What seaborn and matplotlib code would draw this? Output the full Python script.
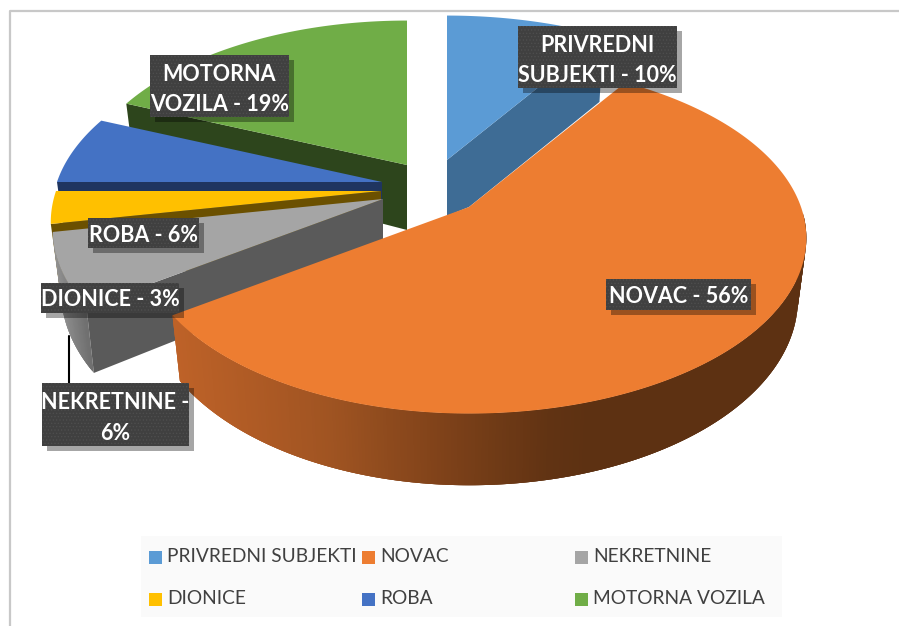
#!/usr/bin/env python3
# coding=utf-8

from matplotlib import pyplot as plt
from matplotlib.patches import Rectangle
import numpy as np
import seaborn as sns

categories = ['PRIVREDNI SUBJEKTI', 'NOVAC', 'NEKRETNINE', 'DIONICE', 'ROBA', 'MOTORNA VOZILA']
shares = [9.1, 56.2, 6.7, 3.0, 6.3, 18.7]
label_texts = ['PRIVREDNI\nSUBJEKTI - 10%', 'NOVAC - 56%', 'NEKRETNINE -\n6%',
               'DIONICE - 3%', 'ROBA - 6%', 'MOTORNA\nVOZILA - 19%']
top_colors = ['#5B9BD5', '#ED7D31', '#A5A5A5', '#FFC000', '#4472C4', '#70AD47']
cut_colors = ['#3E6C95', '#5F3112', '#5A5A5A', '#6B5000', '#1F3560', '#2D451C']

# apex of each exploded slice on the canvas, and how far its cut face drops there
apex = [(447, 160), (469, 207), (383, 199), (381, 191), (382, 182), (407, 165)]
apex_drop = [56, 59, 59, 59, 59, 65]
# label boxes: x0, y0, x1, y1
boxes = [(518, 26, 677, 88), (606, 279, 751, 310), (42, 383, 189, 446),
         (41, 283, 179, 313), (88, 218, 199, 248), (150, 55, 289, 117)]

RX_RIGHT, RX_LEFT, RY, PERSP, DEPTH, SHRINK = 332, 325, 170, 0.177, 59, 0.975


def rim(i, t):
    # top edge of slice i at angle t (degrees, clockwise from 12 o'clock), with perspective
    r = np.radians(t)
    u, v = np.sin(r), np.cos(r)
    d = 1 + PERSP * v
    rx = RX_RIGHT if u >= 0 else RX_LEFT
    return apex[i][0] + rx * u / d, apex[i][1] - RY * v / d, DEPTH / d


def low(i, t):
    x, y, h = rim(i, t)
    return apex[i][0] + (x - apex[i][0]) * SHRINK, y + h


def shade_orange(x):
    xs = [180, 333, 450, 550, 590]
    return (np.interp(x, xs, [190, 160, 125, 97, 93]) / 255,
            np.interp(x, xs, [98, 84, 65, 51, 49]) / 255,
            np.interp(x, xs, [40, 34, 25, 19, 18]) / 255)


def shade_gray(x):
    g = np.interp(x, [55, 92], [155, 112]) / 255
    return (g, g, g)


def draw_slice(ax, i, a0, a1, cut_edge, z, shade=None):
    ts = np.linspace(a0, a1, int(a1 - a0) * 2 + 2)
    # outer wall, only the part turned to the viewer; strips overlap so no seams show
    if shade is not None:
        wall = ts[ts >= 92]
        for k in range(len(wall) - 1):
            t0, t1 = wall[k], wall[min(k + 3, len(wall) - 1)]
            p0, p1 = rim(i, t0), rim(i, t1)
            q0, q1 = low(i, t0), low(i, t1)
            c = shade(low(i, wall[k])[0])
            ax.fill([p0[0], p1[0], q1[0], q0[0]], [p0[1], p1[1], q1[1], q0[1]],
                    color=c, lw=0, zorder=z)
    # cut face towards the viewer
    if cut_edge is not None:
        x, y, h = rim(i, cut_edge)
        lx, ly = low(i, cut_edge)
        ax0, ay0 = apex[i]
        if i == 0:
            # first slice runs on behind the next one
            ax.fill([ax0, x, lx, apex[1][0], ax0], [ay0, y, ly + 15, apex[1][1], ay0 + apex_drop[i]],
                    color=cut_colors[i], lw=0, zorder=z)
        else:
            ax.fill([ax0, x, lx, ax0], [ay0, y, ly, ay0 + apex_drop[i]],
                    color=cut_colors[i], lw=0, zorder=z)
    # top face
    xs = [apex[i][0]] + [rim(i, t)[0] for t in ts]
    ys = [apex[i][1]] + [rim(i, t)[1] for t in ts]
    ax.fill(xs, ys, color=top_colors[i], lw=0, zorder=z)


sns.set_theme(style='white')
plt.rcParams['font.family'] = ['Lato', 'DejaVu Sans']
plt.rcParams['hatch.linewidth'] = 0.6
palette = sns.color_palette(top_colors)

fig = plt.figure(figsize=(8.99, 6.26), dpi=100)
ax = fig.add_axes([0, 0, 1, 1])
ax.set_xlim(0, 899)
ax.set_ylim(626, 0)
ax.axis('off')

# chart frame
ax.plot([10, 10, 899], [626, 10.5, 10.5], color='#C8C8C8', lw=1.6, zorder=1)

edges = np.concatenate([[0], np.cumsum(shares)]) * 3.6

# painter's order: back slices first
draw_slice(ax, 0, edges[0], edges[1], edges[1], 2)
draw_slice(ax, 5, edges[5], edges[6], edges[5], 3)
draw_slice(ax, 4, edges[4], edges[5], edges[4], 4)
draw_slice(ax, 3, edges[3], edges[4], edges[3], 5)
draw_slice(ax, 2, edges[2], edges[3], edges[2], 6, shade=shade_gray)
draw_slice(ax, 1, edges[1], edges[2], None, 7, shade=shade_orange)

# leader line of the NEKRETNINE label
ax.plot([69, 69], [336, 383], color='black', lw=1.5, zorder=12)

# data labels
for (x0, y0, x1, y1), txt in zip(boxes, label_texts):
    ax.add_patch(Rectangle((x0 + 5, y0 + 5), x1 - x0, y1 - y0, facecolor='black',
                           alpha=0.35, lw=0, zorder=13))
    ax.add_patch(Rectangle((x0, y0), x1 - x0, y1 - y0, facecolor='#404040',
                           edgecolor='#4E4E4E', hatch='.....', lw=0, zorder=14))
    shift = 3.5 if '\n' in txt else 2
    ax.text((x0 + x1) / 2, (y0 + y1) / 2 + shift, txt, color='white', fontsize=15.5, fontweight='bold',
            ha='center', va='center', linespacing=1.55, zorder=15)

# legend
ax.add_patch(Rectangle((141, 536), 641, 81, facecolor='#FAFAFA', lw=0, zorder=1))
leg_x = [149, 362, 575]
leg_y = [557, 599]
for n, (name, col) in enumerate(zip(categories, palette)):
    lx, ly = leg_x[n % 3], leg_y[n // 3]
    ax.add_patch(Rectangle((lx, ly - 6.5), 13, 13, facecolor=col, lw=0, zorder=2))
    ax.text(lx + 18, ly, name, color='#404040', fontsize=13.8, ha='left', va='center', zorder=2)

plt.savefig('out.png', dpi=100)
